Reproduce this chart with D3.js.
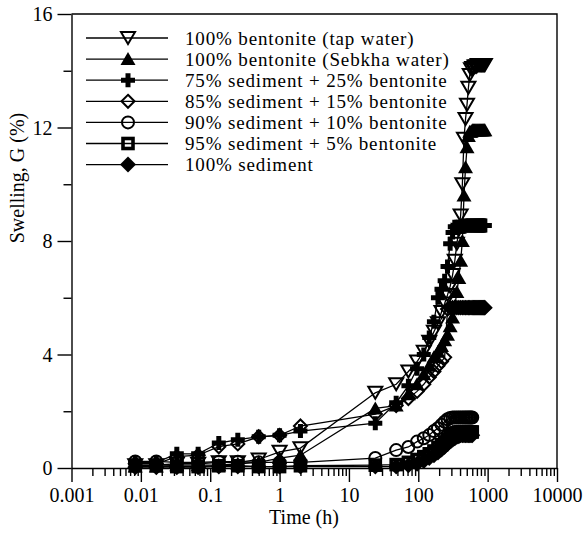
<!DOCTYPE html>
<html><head><meta charset="utf-8">
<script src="https://cdn.jsdelivr.net/npm/d3@7"></script>
<style>
html,body{margin:0;padding:0;background:#fff;}
svg text{font-family:"Liberation Serif","Times New Roman",serif;fill:#000;}
</style></head>
<body>
<svg id="chart" width="586" height="535"></svg>
<script>
// ---- data ----
const seriesNames = [
  "100% bentonite (tap water)",
  "100% bentonite (Sebkha water)",
  "75% sediment + 25% bentonite",
  "85% sediment + 15% bentonite",
  "90% sediment + 10% bentonite",
  "95% sediment + 5% bentonite",
  "100% sediment"
];
const timeHours = [0.0083,0.0167,0.033,0.067,0.133,0.25,0.5,1,2,
  24,48,72,96,120,144,168,192,216,240,
  264,288,312,336,360,384,408,432,456,480,
  504,528,552,576,600,624,648,672,696,720,
  744,768,792,816,840,864,888,912];
const swellTap = [0.1,0.1,0.15,0.15,0.2,0.2,0.3,0.57,0.7,
  2.65,2.95,3.4,3.75,4.1,4.45,4.8,5.1,5.5,5.8,
  6.1,6.4,6.8,7.3,7.9,8.4,8.9,10.0,11.6,12.3,
  12.8,13.4,13.85,14.05,14.1,14.1,14.15,14.15,14.15,14.2,
  14.2,14.2,14.2,14.2,14.2,14.2,14.2,14.2];
const swellSebkha = [0.05,0.05,0.1,0.1,0.1,0.15,0.2,0.35,0.45,
  2.1,2.2,2.6,2.95,3.3,3.6,3.9,4.1,4.3,4.5,
  4.7,5.0,5.3,5.7,6.2,6.7,7.3,8.0,9.6,10.6,
  11.3,11.7,11.85,11.85,11.9,11.9,11.9,11.9,11.9,11.9,
  11.9,11.9,11.9,11.9,11.9,11.9,11.9,11.9];
const swell75 = [0.2,0.2,0.5,0.5,0.88,1.0,1.1,1.15,1.3,
  1.58,2.3,2.9,3.5,4.0,4.6,5.15,6.0,6.3,6.6,
  7.1,7.9,8.3,8.5,8.5,8.5,8.5,8.5,8.5,8.55,
  8.55,8.55,8.55,8.55,8.55,8.55,8.55,8.55,8.55,8.55,
  8.55,8.55,8.55,8.55,8.55,8.55,8.55,8.55];
const swell85 = [0.15,0.15,0.4,0.45,0.75,0.85,1.1,1.15,1.48,
  1.9,2.2,2.45,2.7,2.95,3.2,3.4,3.6,3.75,3.9,
  5.6,5.65,5.65,5.65,5.65,5.65,5.65,5.65,5.65,5.65,
  5.65,5.65,5.65,5.65,5.65,5.65,5.65,5.65,5.65,5.65,
  5.65,5.65,5.65,5.65,5.65,5.65,5.65,5.65];
const swell90 = [0.23,0.23,0.2,0.2,0.22,0.22,0.2,0.2,0.2,
  0.35,0.63,0.74,0.93,1.05,1.16,1.3,1.4,1.52,1.63,
  1.72,1.76,1.78,1.78,1.78,1.78,1.78,1.78,1.78,1.78,
  1.78,1.78,1.78,1.78,1.78,null,null,null,null,null,
  null,null,null,null,null,null,null,null];
const swell95 = [0.08,0.08,0.05,0.05,0.08,0.08,0.05,0.05,0.08,
  0.1,0.12,0.2,0.3,0.4,0.5,0.6,0.72,0.82,0.92,
  1.02,1.1,1.17,1.22,1.25,1.27,1.27,1.27,1.27,1.27,
  1.27,1.27,1.27,1.27,1.27,null,null,null,null,null,
  null,null,null,null,null,null,null,null];
const swell100 = [0.03,0.03,0.03,0.03,0.05,0.05,0.05,0.05,0.05,
  0.05,0.05,0.1,0.15,0.25,0.35,0.45,0.55,0.65,0.75,
  0.85,0.95,1.0,1.05,1.1,1.12,1.15,1.15,1.15,1.15,
  1.15,1.15,1.15,1.15,1.15,null,null,null,null,null,
  null,null,null,null,null,null,null,null];
const seriesValues = [swellTap, swellSebkha, swell75, swell85, swell90, swell95, swell100];
const markerTypes = ["triDownOpen","triUpFilled","plus","diamondOpen","circleOpen","squareThick","diamondFilled"];
const xMajorTicks = [0.001,0.01,0.1,1,10,100,1000,10000];
const xTickLabels = ["0.001","0.01","0.1","1","10","100","1000","10000"];
const yMajorTicks = [0,4,8,12,16];
const yMinorTicks = [2,6,10,14];

// ---- layout ----
const svg = d3.select("#chart");
const L = 71.5, R = 557, T = 14, B = 468;
const x = d3.scaleLog().domain([0.001,10000]).range([L,R]);
const y = d3.scaleLinear().domain([0,16]).range([B,T]);

const xMinor = [];
xMajorTicks.slice(0,-1).forEach(d => { for (let k=2;k<=9;k++) xMinor.push(d*k); });

// axes
const gx = svg.append("g").attr("transform",`translate(0,${B})`);
gx.call(d3.axisBottom(x).tickValues(xMinor).tickSize(8).tickSizeOuter(0).tickFormat(""));
gx.select(".domain").remove();
const gx2 = svg.append("g").attr("transform",`translate(0,${B})`);
gx2.call(d3.axisBottom(x).tickValues(xMajorTicks).tickSize(14).tickSizeOuter(0).tickPadding(5)
  .tickFormat((d,i)=>xTickLabels[i]));
const gy = svg.append("g").attr("transform",`translate(${L},0)`);
gy.call(d3.axisLeft(y).tickValues(yMinorTicks).tickSize(8).tickSizeOuter(0).tickFormat(""));
gy.select(".domain").remove();
const gy2 = svg.append("g").attr("transform",`translate(${L},0)`);
gy2.call(d3.axisLeft(y).tickValues(yMajorTicks).tickSize(14).tickSizeOuter(0).tickPadding(5)
  .tickFormat(d3.format("d")));
svg.selectAll(".tick line, .domain").attr("stroke","#000").attr("stroke-width",1.4);
svg.selectAll(".tick text").attr("font-family","Liberation Serif, serif").attr("font-size",20).attr("fill","#000");
gy2.selectAll(".tick text").attr("dy","0.34em");
gx2.selectAll(".tick text").attr("dy","0.76em");
// frame
svg.append("path").attr("d",`M${L},${T}H${R}V${B}`).attr("fill","none").attr("stroke","#000").attr("stroke-width",1.4);

// titles
svg.append("text").attr("x",304).attr("y",524).attr("text-anchor","middle").attr("font-size",20).text("Time (h)");
svg.append("text").attr("transform","translate(24,178) rotate(-90)").attr("text-anchor","middle").attr("font-size",20).text("Swelling, G (%)");

// markers
function drawMarker(g, type, cx, cy) {
  const s = g.append("g").attr("transform",`translate(${cx},${cy})`);
  switch(type){
    case "triDownOpen":
      s.append("path").attr("d","M-7,-6L7,-6L0,6Z").attr("fill","none").attr("stroke","#000").attr("stroke-width",2); break;
    case "triUpFilled":
      s.append("path").attr("d","M-7.5,6L7.5,6L0,-7Z").attr("fill","#000"); break;
    case "plus":
      s.append("path").attr("d","M-2.5,-7H2.5V-2.5H7V2.5H2.5V7H-2.5V2.5H-7V-2.5H-2.5Z").attr("fill","#000"); break;
    case "diamondOpen":
      s.append("path").attr("d","M0,-6.5L6.5,0L0,6.5L-6.5,0Z").attr("fill","none").attr("stroke","#000").attr("stroke-width",2); break;
    case "circleOpen":
      s.append("circle").attr("r",6).attr("fill","none").attr("stroke","#000").attr("stroke-width",2); break;
    case "squareThick":
      s.append("rect").attr("x",-5).attr("y",-5).attr("width",10).attr("height",10).attr("fill","none").attr("stroke","#000").attr("stroke-width",3.6); break;
    case "diamondFilled":
      s.append("path").attr("d","M0,-8L8,0L0,8L-8,0Z").attr("fill","#000"); break;
  }
}

const line = d3.line().defined(d=>d.v!=null).x(d=>x(d.t)).y(d=>y(d.v));
const plotG = svg.append("g");
seriesValues.forEach((vals,si)=>{
  const pts = timeHours.map((t,i)=>({t:t,v:vals[i]}));
  const g = plotG.append("g");
  g.append("path").attr("d",line(pts)).attr("fill","none").attr("stroke","#000").attr("stroke-width",1.3);
  pts.filter(p=>p.v!=null).forEach(p=>drawMarker(g, markerTypes[si], x(p.t), y(p.v)));
});

// legend
const lg = svg.append("g");
seriesNames.forEach((name,i)=>{
  const cy = 38 + i*21.1;
  lg.append("line").attr("x1",86).attr("x2",168).attr("y1",cy).attr("y2",cy).attr("stroke","#000").attr("stroke-width",1.3);
  drawMarker(lg, markerTypes[i], 128, cy);
  lg.append("text").attr("x",185).attr("y",cy+6.5).attr("font-size",19).attr("letter-spacing","0.85px").text(name);
});
</script>
</body></html>
